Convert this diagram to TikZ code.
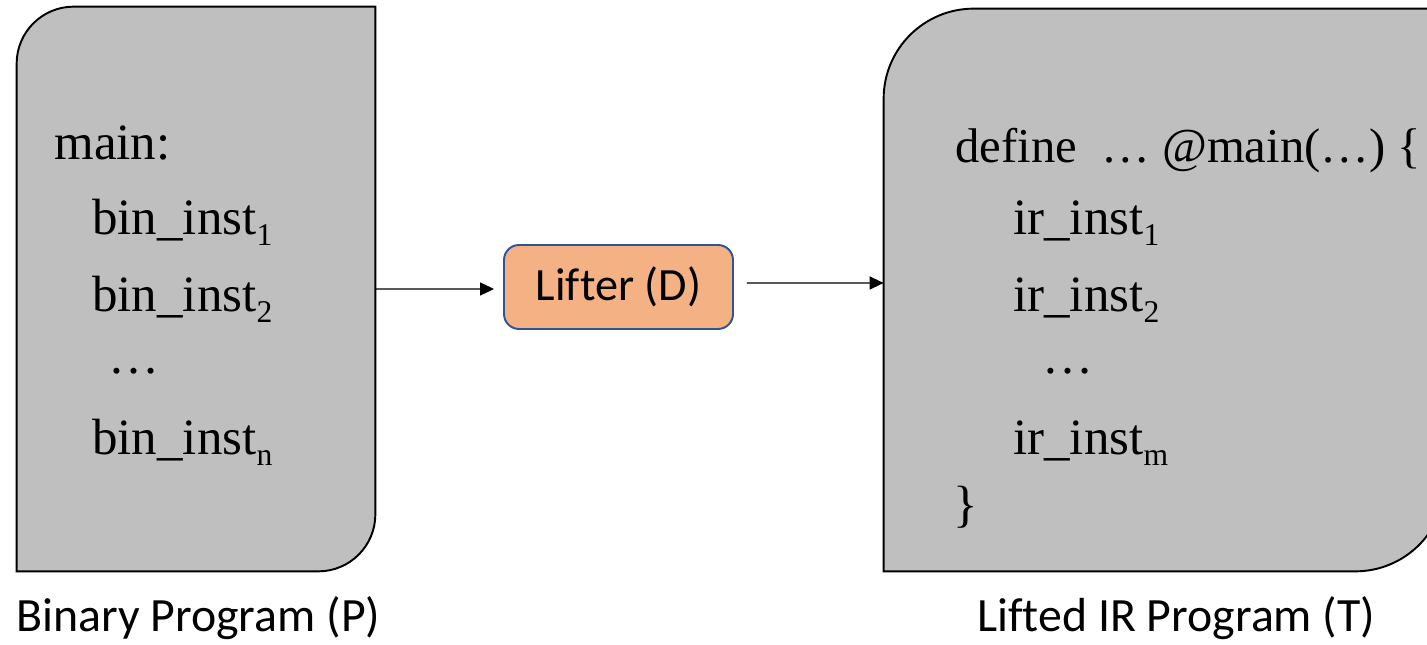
\documentclass[tikz,border=0pt]{standalone}
\usepackage{fontspec}
\setmainfont{Liberation Serif}
\newfontfamily\labelfont[Ligatures=NoCommon]{Carlito}
\usetikzlibrary{arrows.meta,calc}

\definecolor{boxgray}{HTML}{BFBFBF}
\definecolor{lifterfill}{HTML}{F4B183}
\definecolor{lifterline}{HTML}{2F5597}

% lowered index for instruction names
\newcommand\lowidx[1]{\raisebox{-0.2em}{\fontsize{18}{18}\selectfont #1}}

\tikzset{
  progbox/.style={draw=black, fill=boxgray, line width=1.1pt},
  code/.style={anchor=base west, inner sep=0pt, font=\fontsize{29}{34}\selectfont},
  headline/.style={code, font=\fontsize{27.7}{33}\selectfont},
  caption/.style={anchor=base west, inner sep=0pt, font=\labelfont\fontsize{27.2}{32}\selectfont},
  lifterbox/.style={draw=lifterline, fill=lifterfill, line width=1.1pt, rounded corners=0.3cm,
    minimum width=4.58cm, minimum height=1.68cm, inner sep=0pt,
    font=\labelfont\fontsize{26.3}{31}\selectfont},
  conn/.style={draw=black, line width=0.75pt, -{Triangle[length=0.28cm,width=0.26cm]}},
  frame/.style={inner sep=0pt, draw=none, rectangle}
}

\begin{document}
\begin{tikzpicture}
\useasboundingbox (0,0) rectangle (28.54,12.9);

% outlines of the two program boxes (used as anchors)
\node[frame, minimum width=7.16cm, minimum height=11.28cm] (bin) at (3.92,7.12) {};
\node[frame, minimum width=11.22cm, minimum height=11.24cm] (ir) at (23.29,7.10) {};

% binary program box: rounded top-left and bottom-right corners
\draw[progbox] ($(bin.north west)+(1.14,0)$) -- (bin.north east)
  -- ($(bin.south east)+(0,1.14)$) arc[start angle=0, end angle=-90, radius=1.14]
  -- (bin.south west)
  -- ($(bin.north west)+(0,-1.14)$) arc[start angle=180, end angle=90, radius=1.14]
  -- cycle;

% lifted IR box, running past the right margin
\begin{scope}
  \clip (0,0) rectangle (28.54,12.9);
  \draw[progbox] ($(ir.north west)+(1.8,0)$) -- (ir.north east)
    -- ($(ir.south east)+(0,1.8)$) arc[start angle=0, end angle=-90, radius=1.8]
    -- (ir.south west)
    -- ($(ir.north west)+(0,-1.8)$) arc[start angle=180, end angle=90, radius=1.8]
    -- cycle;
\end{scope}

% binary program listing
\node[code] (b0) at (1.08,9.70) {main:};
\node[code] (b1) at (1.84,8.20) {bin\_inst\lowidx{1}};
\node[code] (b2) at (1.84,6.66) {bin\_inst\lowidx{2}};
\node[code] (b3) at (2.16,5.42) {…};
\node[code] (b4) at (1.84,3.80) {bin\_inst\lowidx{n}};

% lifted IR listing
\node[headline] (i0) at (19.10,9.64) {define\ \ … @main(…) \{};
\node[code] (i1) at (20.26,8.20) {ir\_inst\lowidx{1}};
\node[code] (i2) at (20.26,6.66) {ir\_inst\lowidx{2}};
\node[code] (i3) at (20.84,5.42) {…};
\node[code] (i4) at (20.26,3.80) {ir\_inst\lowidx{m}};
\node[code] (i5) at (19.06,2.46) {\}};

% lifter
\node[lifterbox] (lifter) at (12.37,7.16) {Lifter (D)};

% connectors
\draw[conn, shorten >=0.18cm] (bin.east |- 0,7.12) -- ([yshift=-0.04cm]lifter.west);
\draw[conn, shorten <=0.26cm] ([yshift=0.08cm]lifter.east) -- (ir.west |- 0,7.24);

% captions
\node[caption] (capP) at (0.32,0.26) {Binary Program (P)};
\node[caption] (capT) at (19.54,0.26) {Lifted IR Program (T)};
\end{tikzpicture}
\end{document}
